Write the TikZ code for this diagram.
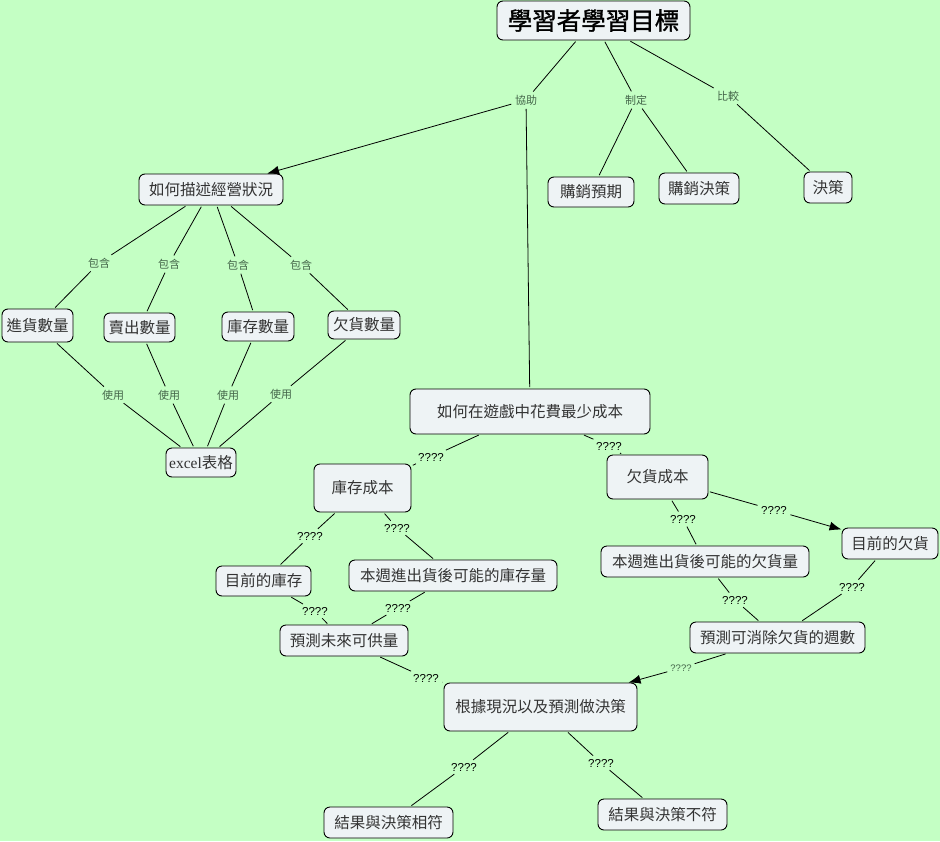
\documentclass[tikz,border=0pt]{standalone}
\usepackage{fontspec}
\usetikzlibrary{arrows.meta}
\newfontfamily\cjk{Noto Sans CJK TC}
\newfontfamily\cjktitle[FakeBold=1.2]{Noto Sans CJK TC}
\newfontfamily\latserif{Liberation Serif}
\newfontfamily\latsans{Liberation Sans}
\definecolor{bgc}{HTML}{C4FFC4}
\definecolor{boxc}{HTML}{EEF3F5}
\definecolor{labc}{HTML}{44664A}
\definecolor{txtc}{HTML}{333333}
\tikzset{
  box/.style={draw=black, line width=0.9pt, rounded corners=6pt, fill=boxc, inner sep=0pt,
    text=txtc, font=\cjk\fontsize{15.5}{16}\selectfont},
  lab/.style={inner sep=2pt, text=labc, font=\cjk\fontsize{11}{12}\selectfont},
  qlab/.style={inner sep=2pt, text=black, font=\fontsize{11.5}{12}\selectfont\latsans},
  slab/.style={inner sep=1.5pt, text=labc, font=\fontsize{9.5}{10}\selectfont\latsans},
  conn/.style={draw=black, line width=0.8pt, shorten <=1.5pt, shorten >=1.5pt},
  arr/.style={conn, -{Latex[length=12pt,width=9pt]}, shorten >=0pt}
}
\begin{document}
\begin{tikzpicture}[x=1pt,y=-1pt]
\fill[bgc] (0,0) rectangle (940,841);
\useasboundingbox (0,0) rectangle (940,841);

% nodes
\node[box, minimum width=193pt, minimum height=39pt, font=\cjktitle\fontsize{24.5}{25}\selectfont, text=black] (title) at (593.5,20.5) {學習者學習目標};
\node[box, minimum width=144pt, minimum height=31pt] (desc) at (211,189.5) {如何描述經營狀況};
\node[box, minimum width=86pt, minimum height=30pt] (yq) at (591,192) {購銷預期};
\node[box, minimum width=80pt, minimum height=31pt] (jc) at (699,188.5) {購銷決策};
\node[box, minimum width=48pt, minimum height=31pt] (jue) at (828,187.5) {決策};
\node[box, minimum width=71pt, minimum height=33pt] (jin) at (37.5,325.5) {進貨數量};
\node[box, minimum width=71pt, minimum height=29pt] (mai) at (139.5,327.5) {賣出數量};
\node[box, minimum width=72pt, minimum height=29pt] (ku) at (258,326.5) {庫存數量};
\node[box, minimum width=72pt, minimum height=28pt] (qian) at (364,325) {欠貨數量};
\node[box, minimum width=70pt, minimum height=29pt] (excel) at (201,462.5) {{\latserif excel}表格};
\node[box, minimum width=240pt, minimum height=45pt] (game) at (530,411.5) {如何在遊戲中花費最少成本};
\node[box, minimum width=97pt, minimum height=48pt] (kucost) at (362.5,488) {庫存成本};
\node[box, minimum width=101pt, minimum height=44pt] (qcost) at (657.5,477) {欠貨成本};
\node[box, minimum width=95pt, minimum height=30pt] (nowku) at (263.5,581) {目前的庫存};
\node[box, minimum width=208pt, minimum height=31pt] (weekku) at (453,575.5) {本週進出貨後可能的庫存量};
\node[box, minimum width=128pt, minimum height=31pt] (supply) at (344,640.5) {預測未來可供量};
\node[box, minimum width=208pt, minimum height=31pt] (weekq) at (705,561.5) {本週進出貨後可能的欠貨量};
\node[box, minimum width=96pt, minimum height=31pt] (nowq) at (890,543.5) {目前的欠貨};
\node[box, minimum width=175pt, minimum height=31pt] (weeks) at (777.5,637.5) {預測可消除欠貨的週數};
\node[box, minimum width=193pt, minimum height=48pt] (decide) at (540.5,707) {根據現況以及預測做決策};
\node[box, minimum width=129pt, minimum height=31pt] (match) at (388.5,822.5) {結果與決策相符};
\node[box, minimum width=129pt, minimum height=31pt] (nomatch) at (662.5,814.5) {結果與決策不符};

% labels
\node[lab] (xz) at (526,100) {協助};
\node[lab] (zd) at (636,100) {制定};
\node[lab] (bj) at (728,96) {比較};
\node[lab] (bh1) at (99,263) {包含};
\node[lab] (bh2) at (169,264) {包含};
\node[lab] (bh3) at (238,265) {包含};
\node[lab] (bh4) at (301,265) {包含};
\node[lab] (sy1) at (113,395) {使用};
\node[lab] (sy2) at (169,395) {使用};
\node[lab] (sy3) at (228,395) {使用};
\node[lab] (sy4) at (281,394) {使用};
\node[qlab] (q1) at (431,457) {????};
\node[qlab] (q2) at (609,446) {????};
\node[qlab] (q3) at (310,536) {????};
\node[qlab] (q4) at (397,528) {????};
\node[qlab] (q5) at (315,611) {????};
\node[qlab] (q6) at (398,608) {????};
\node[qlab] (q7) at (426,678) {????};
\node[qlab] (q8) at (683,519) {????};
\node[qlab] (q9) at (774,510) {????};
\node[qlab] (q10) at (735,600) {????};
\node[qlab] (q11) at (852,587) {????};
\node[slab] (q12) at (681,668) {????};
\node[qlab] (q13) at (464,767) {????};
\node[qlab] (q14) at (601,763) {????};

% connectors
\draw[conn] (title) -- (xz);
\draw[arr] (xz) -- (desc);
\draw[conn] (xz) -- (game);
\draw[conn] (title) -- (zd);
\draw[conn] (zd) -- (yq);
\draw[conn] (zd) -- (jc);
\draw[conn] (title) -- (bj);
\draw[conn] (bj) -- (jue);

\draw[conn] (desc) -- (bh1); \draw[conn] (bh1) -- (jin);
\draw[conn] (desc) -- (bh2); \draw[conn] (bh2) -- (mai);
\draw[conn] (desc) -- (bh3); \draw[conn] (bh3) -- (ku);
\draw[conn] (desc) -- (bh4); \draw[conn] (bh4) -- (qian);
\draw[conn] (jin) -- (sy1); \draw[conn] (sy1) -- (excel);
\draw[conn] (mai) -- (sy2); \draw[conn] (sy2) -- (excel);
\draw[conn] (ku) -- (sy3); \draw[conn] (sy3) -- (excel);
\draw[conn] (qian) -- (sy4); \draw[conn] (sy4) -- (excel);

\draw[conn] (game) -- (q1); \draw[conn] (q1) -- (kucost);
\draw[conn] (game) -- (q2); \draw[conn] (q2) -- (qcost);
\draw[conn] (kucost) -- (q3); \draw[conn] (q3) -- (nowku);
\draw[conn] (kucost) -- (q4); \draw[conn] (q4) -- (weekku);
\draw[conn] (nowku) -- (q5); \draw[conn] (q5) -- (supply);
\draw[conn] (weekku) -- (q6); \draw[conn] (q6) -- (supply);
\draw[conn] (supply) -- (q7); \draw[conn] (q7) -- (decide);
\draw[conn] (qcost) -- (q8); \draw[conn] (q8) -- (weekq);
\draw[conn] (qcost) -- (q9); \draw[arr] (q9) -- (nowq);
\draw[conn] (weekq) -- (q10); \draw[conn] (q10) -- (weeks);
\draw[conn] (nowq) -- (q11); \draw[conn] (q11) -- (weeks);
\draw[conn] (weeks) -- (q12); \draw[arr] (q12) -- (decide);
\draw[conn] (decide) -- (q13); \draw[conn] (q13) -- (match);
\draw[conn] (decide) -- (q14); \draw[conn] (q14) -- (nomatch);
\end{tikzpicture}
\end{document}
